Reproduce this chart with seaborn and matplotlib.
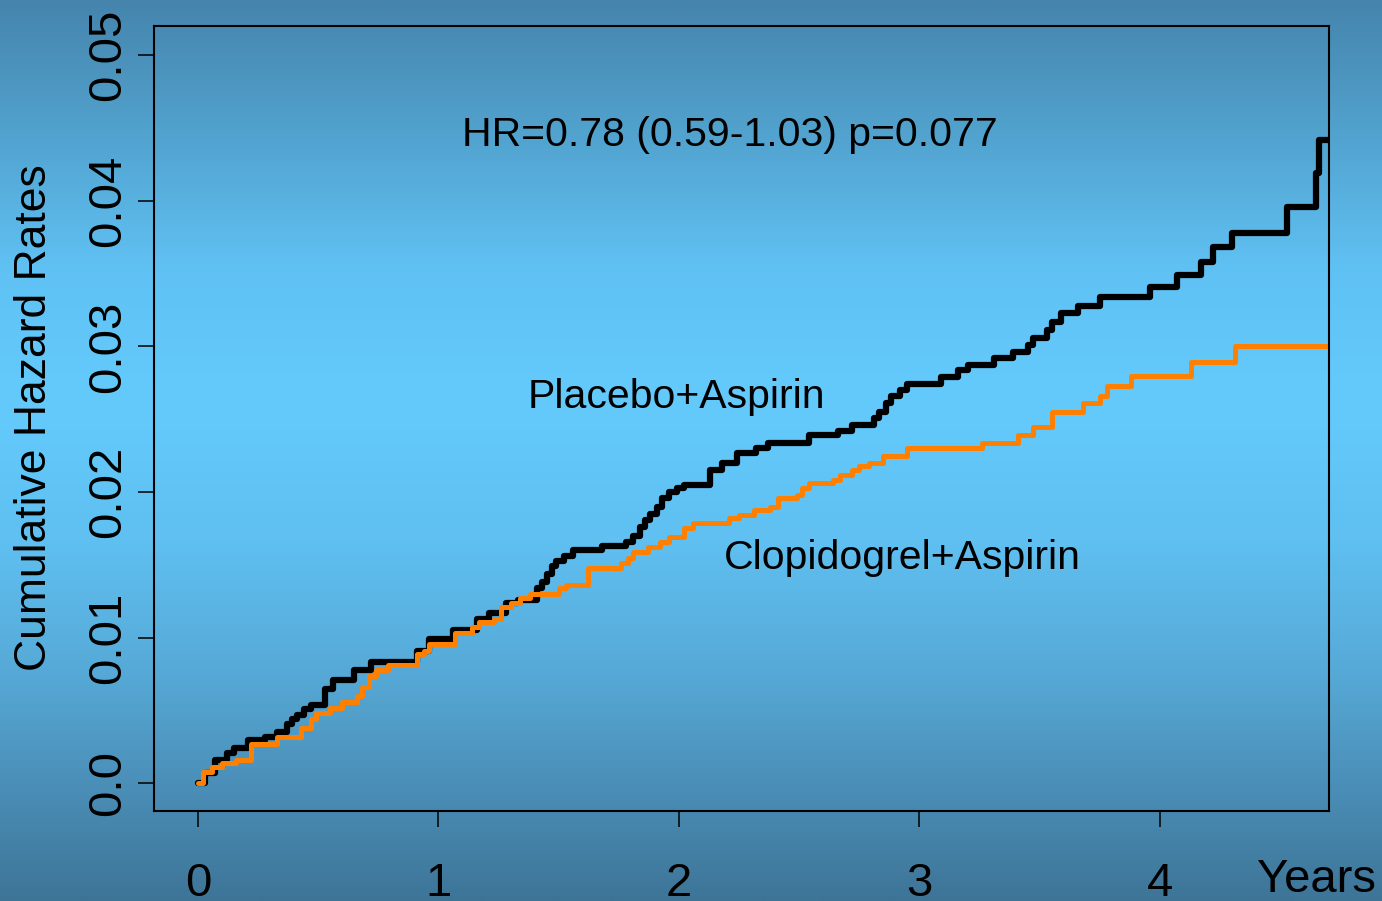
import numpy as np
import matplotlib
matplotlib.use('Agg')
import matplotlib.pyplot as plt
import seaborn as sns
from matplotlib.colors import LinearSegmentedColormap

# step points (years, cumulative hazard)
placebo_t = [0.00, 0.03, 0.07, 0.12, 0.15, 0.21, 0.28, 0.33, 0.37, 0.39, 0.41, 0.44, 0.47,
             0.53, 0.56, 0.65, 0.72, 0.91, 0.96, 1.06, 1.16, 1.21, 1.28, 1.33, 1.41, 1.43,
             1.45, 1.47, 1.49, 1.52, 1.56, 1.68, 1.78, 1.81, 1.84, 1.86, 1.88, 1.91, 1.93,
             1.96, 1.99, 2.02, 2.13, 2.18, 2.24, 2.32, 2.37, 2.54, 2.66, 2.72, 2.81, 2.83,
             2.86, 2.88, 2.92, 2.95, 3.09, 3.16, 3.20, 3.31, 3.39, 3.45, 3.47, 3.53, 3.55,
             3.59, 3.66, 3.75, 3.96, 4.07, 4.17, 4.22, 4.30, 4.53, 4.65, 4.66, 4.70]
placebo_h = [0.0000, 0.0007, 0.0016, 0.0021, 0.0024, 0.0030, 0.0032, 0.0035, 0.0041, 0.0044,
             0.0047, 0.0051, 0.0054, 0.0065, 0.0071, 0.0078, 0.0083, 0.0091, 0.0099, 0.0105,
             0.0113, 0.0117, 0.0124, 0.0126, 0.0134, 0.0138, 0.0144, 0.0149, 0.0153, 0.0156,
             0.0160, 0.0163, 0.0166, 0.0170, 0.0176, 0.0181, 0.0185, 0.0190, 0.0196, 0.0200,
             0.0203, 0.0205, 0.0215, 0.0220, 0.0227, 0.0230, 0.0234, 0.0239, 0.0242, 0.0246,
             0.0251, 0.0255, 0.0261, 0.0266, 0.0270, 0.0274, 0.0279, 0.0284, 0.0287, 0.0292,
             0.0296, 0.0301, 0.0306, 0.0311, 0.0317, 0.0323, 0.0328, 0.0334, 0.0341, 0.0349,
             0.0358, 0.0368, 0.0378, 0.0396, 0.0419, 0.0442, 0.0442]

clopi_t = [0.00, 0.02, 0.06, 0.10, 0.16, 0.22, 0.33, 0.43, 0.47, 0.49, 0.55, 0.60, 0.66,
           0.68, 0.71, 0.74, 0.79, 0.91, 0.94, 0.96, 1.07, 1.14, 1.17, 1.23, 1.26, 1.30,
           1.34, 1.38, 1.50, 1.53, 1.62, 1.76, 1.79, 1.81, 1.87, 1.92, 1.96, 2.02, 2.06,
           2.21, 2.25, 2.31, 2.38, 2.41, 2.49, 2.51, 2.54, 2.64, 2.67, 2.72, 2.75, 2.79,
           2.85, 2.95, 3.26, 3.41, 3.47, 3.55, 3.68, 3.75, 3.78, 3.88, 4.13, 4.31, 4.70]
clopi_h = [0.0000, 0.0008, 0.0011, 0.0014, 0.0016, 0.0027, 0.0032, 0.0038, 0.0044, 0.0048,
           0.0052, 0.0056, 0.0060, 0.0066, 0.0074, 0.0078, 0.0081, 0.0089, 0.0091, 0.0096,
           0.0103, 0.0107, 0.0111, 0.0113, 0.0121, 0.0124, 0.0127, 0.0130, 0.0134, 0.0136,
           0.0148, 0.0151, 0.0155, 0.0159, 0.0162, 0.0166, 0.0169, 0.0175, 0.0179, 0.0182,
           0.0184, 0.0188, 0.0190, 0.0196, 0.0198, 0.0203, 0.0206, 0.0208, 0.0212, 0.0215,
           0.0218, 0.0220, 0.0225, 0.0230, 0.0234, 0.0239, 0.0245, 0.0255, 0.0261, 0.0266,
           0.0273, 0.0280, 0.0289, 0.0300, 0.0300]

x_ticks = [0, 1, 2, 3, 4]
y_ticks = [0.0, 0.01, 0.02, 0.03, 0.04, 0.05]
y_tick_labels = ['0.0', '0.01', '0.02', '0.03', '0.04', '0.05']

sns.set_style('ticks')
plt.rcParams['font.family'] = ['Liberation Sans', 'DejaVu Sans']
plt.rcParams['text.color'] = 'black'
plt.rcParams['xtick.color'] = 'black'
plt.rcParams['ytick.color'] = 'black'
plt.rcParams['axes.labelcolor'] = 'black'

fig = plt.figure(figsize=(13.82, 9.01), dpi=100)

# slide-style vertical gradient behind everything
bg = fig.add_axes([0, 0, 1, 1], zorder=-10)
bg_cmap = LinearSegmentedColormap.from_list(
    'bg', [(0.0, '#4585ad'), (0.15, '#52a3cf'), (0.30, '#60c2f4'), (0.45, '#64cafc'),
           (0.60, '#5fc0f1'), (0.75, '#56a9d6'), (0.90, '#4889b1'), (1.0, '#3e7597')])
bg.imshow(np.linspace(0, 1, 600).reshape(-1, 1), aspect='auto', cmap=bg_cmap,
          extent=[0, 1, 1, 0])
bg.set_axis_off()

ax = fig.add_axes([0.1114, 0.0999, 0.8503, 0.8712])
ax.set_facecolor('none')

sns.lineplot(x=placebo_t, y=placebo_h, drawstyle='steps-post', color='black', lw=4.5,
             estimator=None, sort=False, ax=ax)
sns.lineplot(x=clopi_t, y=clopi_h, drawstyle='steps-post', color='#ff8000', lw=3.6,
             estimator=None, sort=False, ax=ax)

ax.set_xlim(-0.183, 4.703)
ax.set_ylim(-0.0019, 0.0520)
ax.set_xticks(x_ticks)
ax.set_xticklabels([str(t) for t in x_ticks])
ax.set_yticks(y_ticks)
ax.set_yticklabels(y_tick_labels)
for lab in ax.get_yticklabels():
    lab.set_rotation(90)
    lab.set_va('center')

ax.tick_params(direction='out', length=11.5, width=1.1, colors='black', labelsize=34)
ax.tick_params(axis='x', pad=25)
ax.tick_params(axis='y', pad=6)
for sp in ax.spines.values():
    sp.set_visible(True)
    sp.set_color('black')
    sp.set_linewidth(1.5)

ax.set_xlabel('')
ax.set_ylabel('')

ax.text(2.21, 0.0445, 'HR=0.78 (0.59-1.03) p=0.077', fontsize=29.5, color='black',
        ha='center', va='center')
ax.text(1.99, 0.0265, 'Placebo+Aspirin', fontsize=29.5, color='black', ha='center', va='center')
ax.text(2.93, 0.0155, 'Clopidogrel+Aspirin', fontsize=29.5, color='black',
        ha='center', va='center')

fig.text(35 / 1382, 1 - 418 / 901, 'Cumulative Hazard Rates', fontsize=32, color='black',
         rotation=90, ha='center', va='center')
fig.text(1316 / 1382, 1 - 880 / 901, 'Years', fontsize=34, color='black',
         ha='center', va='center')

fig.savefig('out.png', dpi=100)
